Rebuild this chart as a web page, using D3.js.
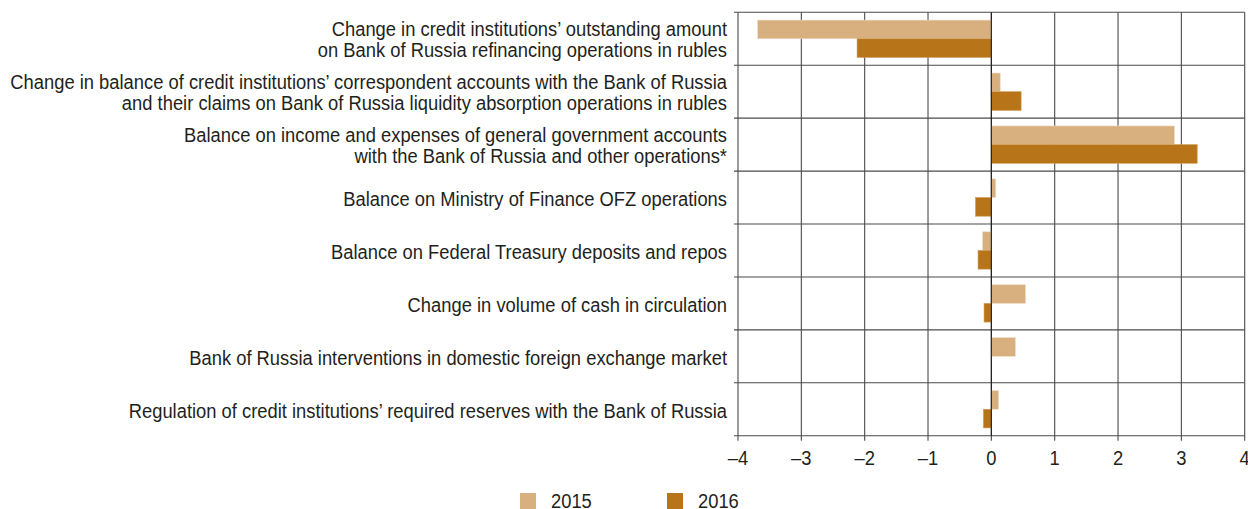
<!DOCTYPE html>
<html><head><meta charset="utf-8">
<script src="https://cdn.jsdelivr.net/npm/d3@7"></script>
<style>
html,body{margin:0;padding:0;background:#fff;overflow:hidden}
text{font-family:"Liberation Sans",Arial,sans-serif;fill:#231f20}
</style></head>
<body><svg id="c" width="1248" height="509"></svg>
<script>
const categories = [
  ["Change in credit institutions’ outstanding amount","on Bank of Russia refinancing operations in rubles"],
  ["Change in balance of credit institutions’ correspondent accounts with the Bank of Russia","and their claims on Bank of Russia liquidity absorption operations in rubles"],
  ["Balance on income and expenses of general government accounts","with the Bank of Russia and other operations*"],
  ["Balance on Ministry of Finance OFZ operations"],
  ["Balance on Federal Treasury deposits and repos"],
  ["Change in volume of cash in circulation"],
  ["Bank of Russia interventions in domestic foreign exchange market"],
  ["Regulation of credit institutions’ required reserves with the Bank of Russia"]
];
const seriesNames = ["2015","2016"];
const values2015 = [-3.69, 0.14, 2.89, 0.07, -0.14, 0.54, 0.38, 0.115];
const values2016 = [-2.12, 0.47, 3.25, -0.25, -0.21, -0.115, 0, -0.125];
const xTicks = [-4,-3,-2,-1,0,1,2,3,4];
const colors = ["#d8af7f","#b87419"];

const svg = d3.select("#c");
const FS = 21;
// horizontal condensing factor to imitate a condensed face
const probe = svg.append("text").style("font-size",FS+"px").text(categories[1][0]);
const SX = 717 / probe.node().getComputedTextLength();
probe.remove();

const L = 738, R = 1244.7, T = 12.3, B = 435.7;
const x = d3.scaleLinear().domain([-4,4]).range([L,R]);
const idx = categories.map((d,i)=>i);
const y = d3.scaleBand().domain(idx).range([T,B]).padding(0);
const ys = d3.scaleBand().domain(seriesNames).range([0,y.bandwidth()]).paddingInner(0).paddingOuter(0.418);

const grid = svg.append("g");
grid.selectAll("line.v").data(xTicks).join("line")
  .attr("x1",d=>x(d)).attr("x2",d=>x(d)).attr("y1",T).attr("y2",B+5)
  .attr("stroke","#4a4a4a").attr("stroke-width",1.1);
const bounds = idx.map(i=>y(i)).concat([B]);
grid.selectAll("line.h").data(bounds).join("line")
  .attr("x1",L-4).attr("x2",R).attr("y1",d=>d).attr("y2",d=>d)
  .attr("stroke","#4a4a4a").attr("stroke-width",1.1);

const data = [];
idx.forEach(i=>{
  data.push({i, s:"2015", v:values2015[i], c:colors[0]});
  data.push({i, s:"2016", v:values2016[i], c:colors[1]});
});
svg.append("g").selectAll("rect").data(data.filter(d=>d.v!==0)).join("rect")
  .attr("x",d=>x(Math.min(0,d.v))).attr("width",d=>Math.abs(x(d.v)-x(0)))
  .attr("y",d=>y(d.i)+ys(d.s)).attr("height",ys.bandwidth())
  .attr("fill",d=>d.c).attr("stroke",d=>d.s==="2015"?"#f0dcc4":"#d09a55").attr("stroke-width",0.6);

svg.append("line").attr("x1",x(0)).attr("x2",x(0)).attr("y1",T).attr("y2",B)
  .attr("stroke","#231f20").attr("stroke-width",1.1);

function cText(g, px, py, anchor){
  return g.append("text").attr("transform",`scale(${SX},1)`)
    .attr("x",px/SX).attr("y",py).attr("text-anchor",anchor).style("font-size",FS+"px");
}

// x tick labels
const xt = svg.append("g");
xTicks.forEach(d=>{
  cText(xt, x(d), 465, "middle").text(d<0?"\u2013"+Math.abs(d):d);
});

// category labels
const lab = svg.append("g");
idx.forEach(i=>{
  const lines = categories[i];
  const cy = y(i)+y.bandwidth()/2;
  const lh = 21;
  lines.forEach((ln,k)=>{
    const off = lines.length===1 ? 8.3 : 7.4 + (k-0.5)*lh;
    cText(lab, 727, cy + off, "end").text(ln);
  });
});

// legend
const lg = svg.append("g");
seriesNames.forEach((s,k)=>{
  const lx = [520,667][k];
  lg.append("rect").attr("x",lx).attr("y",493).attr("width",16).attr("height",16).attr("fill",colors[k]);
  cText(lg, lx+31, 508, "start").text(s);
});
</script></body></html>
